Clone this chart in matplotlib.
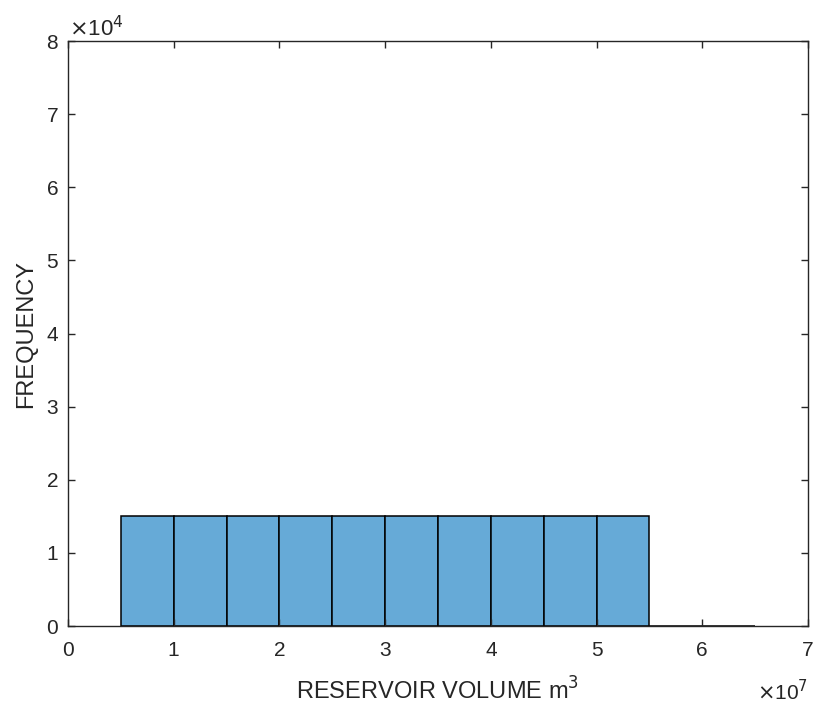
import matplotlib
matplotlib.use("Agg")
import matplotlib.pyplot as plt
import numpy as np
from matplotlib.ticker import FuncFormatter

# histogram bin edges (m^3) and counts
bin_edges = [0.5e7, 1.0e7, 1.5e7, 2.0e7, 2.5e7, 3.0e7, 3.5e7, 4.0e7,
             4.5e7, 5.0e7, 5.5e7, 6.0e7, 6.5e7]
counts = [15050, 15050, 15050, 15050, 15050, 15050, 15050, 15050,
          15050, 15050, 0, 0]

plt.rcParams['font.family'] = ['Liberation Sans', 'DejaVu Sans']
axcol = (0.15, 0.15, 0.15)

fig = plt.figure(figsize=(8.14, 7.05), dpi=100)
ax = fig.add_axes([0.0835, 0.112, 0.9091, 0.8298])

edges = np.array(bin_edges)
ax.bar(edges[:-1], counts, width=np.diff(edges), align='edge',
       color=(0.4, 0.668, 0.845), edgecolor='black', linewidth=1.1)

ax.set_xlim(0, 7e7)
ax.set_ylim(0, 8e4)
ax.set_xticks(np.arange(0, 8) * 1e7)
ax.set_yticks(np.arange(0, 9) * 1e4)
ax.xaxis.set_major_formatter(FuncFormatter(lambda v, p: "%g" % (v / 1e7)))
ax.yaxis.set_major_formatter(FuncFormatter(lambda v, p: "%g" % (v / 1e4)))

ax.tick_params(direction='in', top=True, right=True, length=5, width=1,
               colors=axcol, labelsize=15)
ax.tick_params(axis='x', pad=11)
ax.tick_params(axis='y', pad=7)
for s in ax.spines.values():
    s.set_color(axcol)
    s.set_linewidth(1)

ax.set_xlabel("RESERVOIR VOLUME m$^3$", fontsize=17, color=axcol, labelpad=12)
ax.set_ylabel("FREQUENCY", fontsize=17, color=axcol, labelpad=7)

ax.text(0.002, 1.0, r"$\times$10$^4$", transform=ax.transAxes, fontsize=16,
        color=axcol, ha='left', va='bottom')
ax.text(1.0, -0.09, r"$\times$10$^7$", transform=ax.transAxes, fontsize=15,
        color=axcol, ha='right', va='top')

fig.savefig("out.png", dpi=100)
